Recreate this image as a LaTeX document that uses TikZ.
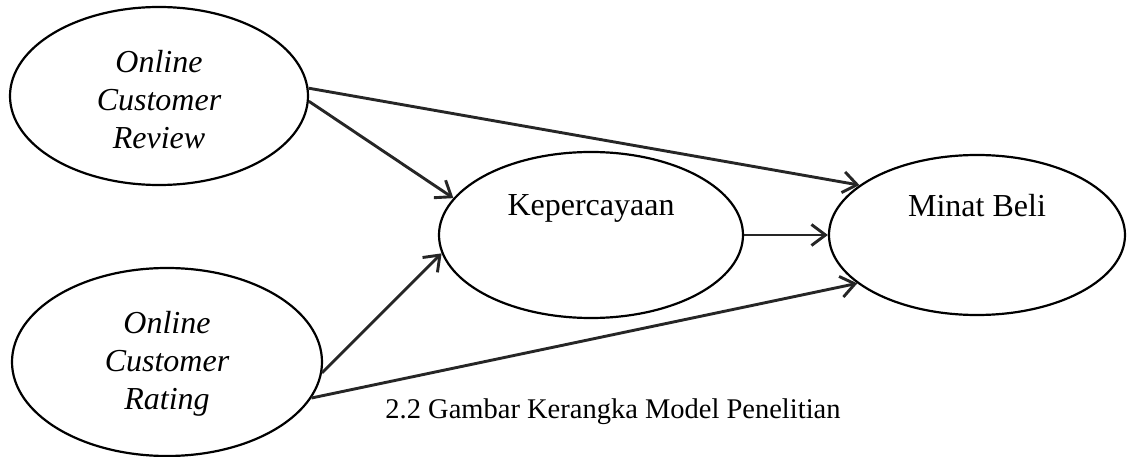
\documentclass[tikz,border=0pt]{standalone}
\usepackage{fontspec}
\setmainfont{Liberation Serif}
\usetikzlibrary{shapes.geometric,arrows.meta}
\begin{document}
\begin{tikzpicture}[x=1pt,y=-1pt,
  oval/.style={draw,ellipse,line width=2.2pt,inner sep=0pt},
  lbl/.style={font=\fontsize{32}{38}\selectfont,align=center,inner sep=0pt},
  conn/.style={line width=2.9pt,draw=black!85,-{Straight Barb[length=14pt,width=21pt,line width=2.9pt]}}]
\useasboundingbox (0,0) rectangle (1128,457);
\node[oval,minimum width=298pt,minimum height=178pt] (rev) at (159,96) {};
\node[oval,minimum width=310pt,minimum height=188pt] (rat) at (167,362) {};
\node[oval,minimum width=304pt,minimum height=166pt] (kep) at (591,235) {};
\node[oval,minimum width=296pt,minimum height=160pt] (mb) at (977,235) {};
\node[lbl,font=\fontsize{32}{38}\selectfont\itshape] (trev) at (159,100) {Online\\Customer\\Review};
\node[lbl,font=\fontsize{32}{38}\selectfont\itshape] (trat) at (167,364) {Online\\Customer\\Rating};
\node[lbl] (tkep) at (591,208) {Kepercayaan};
\node[lbl] (tmb) at (977,206) {Minat Beli};
\node[lbl,font=\fontsize{28.5}{38}\selectfont] (cap) at (613,412) {2.2 Gambar Kerangka Model Penelitian};
\draw[conn] (rev.3) -- (mb.157);
\draw[conn] (rev.358) -- (kep.165);
\draw[conn] (rat.356) -- (kep.187);
\draw[conn] (rat.346) -- (mb.202);
\draw[conn] (kep.east) -- (mb.west);
\end{tikzpicture}
\end{document}
